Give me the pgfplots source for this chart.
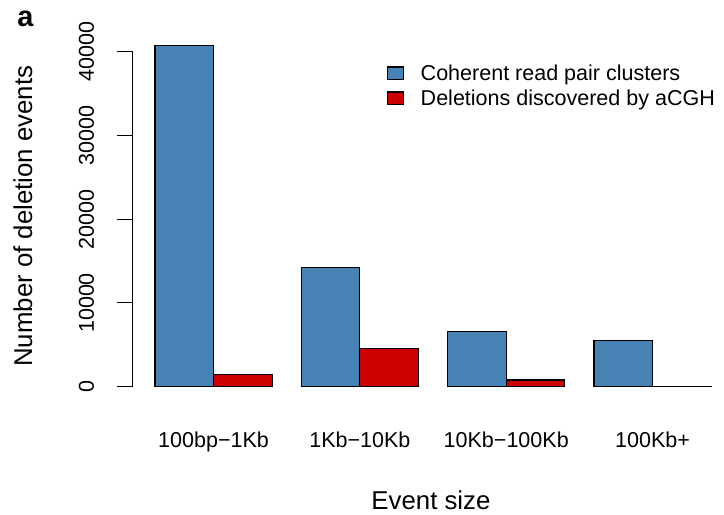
\documentclass[border=0pt]{standalone}
\usepackage{fontspec}
\setmainfont{Liberation Sans}
\usepackage{pgfplots}
\pgfplotsset{compat=1.18}
\definecolor{barblue}{HTML}{4682B4}
\definecolor{barred}{HTML}{CD0000}
\newcommand{\tickfont}{\fontsize{21.6}{26}\selectfont}
\newcommand{\titlefont}{\fontsize{25.9}{30}\selectfont}
\begin{document}
\begin{tikzpicture}
\begin{axis}[
  at={(132.8bp,128.3bp)}, anchor=south west,
  scale only axis, width=590bp, height=335bp,
  xmin=0.12, xmax=10.2, ymin=0, ymax=40000,
  clip=false,
  ybar,
  axis y line*=left, axis x line*=bottom,
  x axis line style={draw=none},
  y axis line style={line width=1.1bp, black},
  ytick={0,10000,20000,30000,40000},
  scaled y ticks=false,
  /pgf/number format/assume math mode=true,
  /pgf/number format/1000 sep={},
  yticklabel style={rotate=90, anchor=base, font=\tickfont, yshift=23bp},
  tick align=outside,
  major tick length=16bp,
  ytick style={line width=1.1bp, black},
  xtick={1.5,4,6.5,9},
  xticklabels={100bp−1Kb,1Kb−10Kb,10Kb−100Kb,100Kb+},
  xtick style={draw=none},
  xticklabel style={anchor=base, font=\tickfont, yshift=-44.8bp},
  xlabel={Event size},
  ylabel={Number of deletion events},
  xlabel style={at={(axis description cs:0.5054,-0.368)}, anchor=base, inner sep=0pt, font=\titlefont},
  ylabel style={at={(axis description cs:-0.1705,0.509)}, rotate=0, anchor=base, inner sep=0pt, font=\titlefont},
  legend style={at={(axis description cs:0.4303,0.9588)}, anchor=north west,
    draw=none, fill=none, inner sep=0pt, outer sep=0pt, row sep=0pt, column sep=0pt,
    font=\tickfont,
    nodes={inner sep=0pt, text height=15.5bp, text depth=9.5bp, anchor=base west}},
  legend cell align=left,
  legend image code/.code={\draw[#1, line width=1.1bp] (0bp,1.5bp) rectangle (16bp,14bp); \path[draw=none, fill=none] (0bp,0bp) -- (33.5bp,0bp);},
]
\addplot[bar width=1, bar shift=0pt, fill=barblue, draw=black, line width=1.1bp]
  coordinates {(1,40700) (3.5,14200) (6,6570) (8.5,5490)};
\addlegendentry{Coherent read pair clusters}
\addplot[bar width=1, bar shift=0pt, fill=barred, draw=black, line width=1.1bp]
  coordinates {(2,1510) (4.5,4580) (7,800) (9.5,30)};
\addlegendentry{Deletions discovered by aCGH}
\node[anchor=base west, font=\bfseries\fontsize{29}{32}\selectfont] at (axis description cs:-0.2015,1.0767) {a};
\end{axis}
\pgfresetboundingbox
\path[use as bounding box] (0,0) rectangle (724bp,515bp);
\end{tikzpicture}
\end{document}
